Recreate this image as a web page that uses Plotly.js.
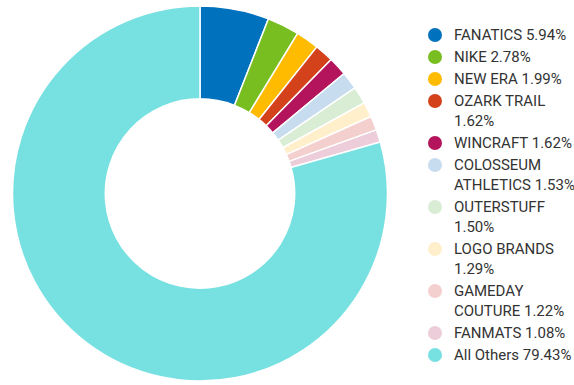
<!DOCTYPE html>
<html>
<head>
<meta charset="utf-8">
<script src="https://cdn.plot.ly/plotly-3.0.1.min.js"></script>
<style>html,body{margin:0;padding:0;background:#fff;}#chart{width:574px;height:385px;}</style>
</head>
<body>
<div id="chart"></div>
<script>
const brands = ["FANATICS", "NIKE", "NEW ERA", "OZARK TRAIL", "WINCRAFT", "COLOSSEUM ATHLETICS", "OUTERSTUFF", "LOGO BRANDS", "GAMEDAY COUTURE", "FANMATS", "All Others"];
const shares = [5.94, 2.78, 1.99, 1.62, 1.62, 1.53, 1.50, 1.29, 1.22, 1.08, 79.43];
const colors = ["#0071BC", "#78BE21", "#FFBB00", "#D4421C", "#B3145B", "#C7DCEE", "#D9EDD5", "#FFEFCB", "#F3CFCD", "#ECCDD9", "#77E0E1"];

const W = 574, H = 385;
const FONT = "Roboto, 'Open Sans', sans-serif";
const FSIZE = 15;
const textX = 452, dotX = 435, dotR = 7;
const maxTextW = 126;
const y0 = 35, itemStep = 22, lineStep = 20;

function draw() {
  const ctx = document.createElement("canvas").getContext("2d");
  ctx.font = FSIZE + "px Roboto";
  function wrap(str) {
    const words = str.split(" ");
    const lines = [];
    let cur = "";
    words.forEach(w => {
      const t = cur ? cur + " " + w : w;
      if (cur && ctx.measureText(t).width > maxTextW) { lines.push(cur); cur = w; }
      else cur = t;
    });
    lines.push(cur);
    return lines;
  }

  const shapes = [], annotations = [];
  let y = y0;
  brands.forEach((b, i) => {
    const lines = wrap(b + " " + shares[i].toFixed(2) + "%");
    shapes.push({type: "circle", xref: "paper", yref: "paper",
      x0: (dotX - dotR) / W, x1: (dotX + dotR) / W,
      y0: 1 - (y + dotR) / H, y1: 1 - (y - dotR) / H,
      fillcolor: colors[i], line: {width: 0}});
    lines.forEach((ln, j) => {
      annotations.push({xref: "paper", yref: "paper", x: textX / W, y: 1 - (y + j * lineStep) / H,
        xanchor: "left", yanchor: "middle", showarrow: false, text: ln,
        font: {family: FONT, size: FSIZE, color: "#333333"}});
    });
    y += itemStep + (lines.length - 1) * lineStep;
  });

  const trace = {
    type: "pie",
    labels: brands,
    values: shares,
    sort: false,
    direction: "clockwise",
    rotation: 0,
    hole: 0.505,
    textinfo: "none",
    hoverinfo: "label+percent",
    marker: {colors: colors, line: {color: "#ffffff", width: 1.5}},
    domain: {x: [12 / W, 388 / W], y: [1 - 381 / H, 1 - 6 / H]}
  };

  Plotly.newPlot("chart", [trace], {
    width: W, height: H,
    margin: {l: 0, r: 0, t: 0, b: 0},
    paper_bgcolor: "#ffffff",
    showlegend: false,
    shapes: shapes,
    annotations: annotations
  }, {displayModeBar: false, staticPlot: true});
}

if (document.fonts && document.fonts.load) {
  document.fonts.load(FSIZE + "px Roboto").then(draw, draw);
} else {
  draw();
}
</script>
</body>
</html>
